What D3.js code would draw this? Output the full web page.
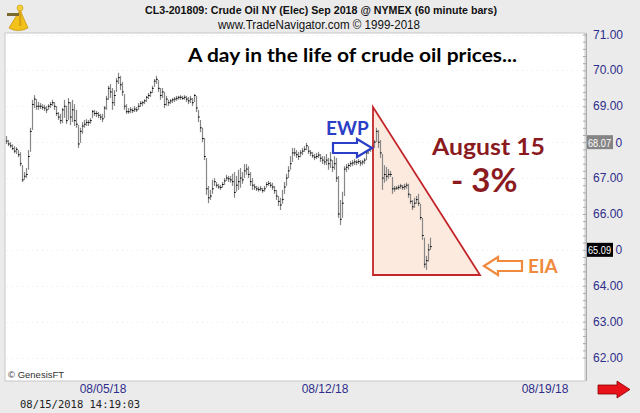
<!DOCTYPE html>
<html><head><meta charset="utf-8">
<script src="https://cdn.jsdelivr.net/npm/d3@7"></script>
<style>body{margin:0;background:#ebebeb;}svg{display:block;}</style>
</head><body>
<svg id="c" width="640" height="413"></svg>
<script>
// ---- data (60 minute bars, CL Sep 2018) ----
const hi = [68.17,68.06,68.0,67.94,67.89,67.86,67.78,67.72,67.36,67.17,67.28,67.78,68.4,69.18,69.31,69.2,69.12,69.09,69.06,69.04,69.01,69.06,69.12,69.18,69.12,69.01,68.84,68.79,68.95,69.18,69.01,69.23,69.12,69.18,69.06,68.9,68.48,68.4,68.56,68.62,68.64,68.62,68.67,68.9,68.9,68.87,68.84,68.79,68.79,69.01,69.29,69.57,69.62,69.51,69.45,69.79,69.93,69.85,69.68,69.34,69.06,68.95,68.98,68.95,69.01,68.98,69.09,69.15,69.15,69.2,69.29,69.37,69.43,69.57,69.76,69.85,69.73,69.51,69.51,69.4,69.29,69.18,69.2,69.23,69.26,69.29,69.29,69.31,69.29,69.31,69.29,69.26,69.29,69.23,69.34,69.29,68.9,68.62,68.4,68.12,67.56,66.78,66.67,66.95,67.0,66.89,66.84,66.81,66.89,67.0,67.09,67.06,67.06,67.12,67.17,67.06,67.23,67.28,67.17,67.39,67.39,67.33,67.17,67.0,66.84,66.78,66.76,66.78,66.73,66.78,66.89,66.92,66.89,66.87,66.78,66.67,66.5,66.45,66.67,66.89,67.12,67.33,67.61,67.84,67.84,67.78,67.73,67.78,67.84,67.89,67.98,67.89,67.78,67.73,67.67,67.7,67.73,67.67,67.61,67.61,67.67,67.56,67.73,67.5,67.61,67.56,67.06,66.39,66.62,67.33,67.39,67.42,67.47,67.5,67.53,67.5,67.53,67.5,67.5,67.56,67.78,67.84,67.89,67.94,68.06,68.4,68.34,68.06,67.67,67.36,67.31,67.25,67.2,67.03,66.78,66.78,66.81,66.84,66.81,66.84,66.87,66.84,66.56,66.39,66.45,66.5,66.56,66.28,65.89,65.34,64.83,65.17,65.34];
const lo = [67.95,67.89,67.84,67.78,67.69,67.67,67.58,67.33,66.89,66.95,67.0,67.23,67.73,68.34,68.95,68.9,68.9,68.92,68.9,68.87,68.81,68.9,68.95,69.01,68.9,68.73,68.62,68.51,68.53,68.68,68.51,68.62,68.48,68.56,68.45,68.4,67.84,67.98,68.23,68.4,68.45,68.45,68.51,68.67,68.73,68.7,68.67,68.62,68.56,68.67,68.9,69.18,69.23,68.9,69.01,69.4,69.62,69.45,69.29,68.9,68.79,68.79,68.81,68.81,68.84,68.84,68.9,68.98,69.01,69.06,69.12,69.2,69.26,69.37,69.54,69.62,69.4,69.18,69.23,68.95,69.01,69.01,69.06,69.09,69.12,69.15,69.18,69.18,69.18,69.18,69.12,69.06,69.09,69.01,69.12,68.84,68.56,68.28,68.0,67.5,66.53,66.3,66.39,66.56,66.78,66.73,66.7,66.67,66.73,66.81,66.92,66.89,66.87,66.78,66.45,66.62,66.67,66.73,66.84,67.0,67.09,67.0,66.78,66.67,66.67,66.64,66.62,66.64,66.59,66.62,66.73,66.78,66.73,66.67,66.56,66.39,66.22,66.11,66.28,66.56,66.78,67.0,67.23,67.45,67.61,67.56,67.5,67.58,67.64,67.73,67.78,67.67,67.61,67.56,67.5,67.53,67.56,67.45,67.39,67.36,67.36,67.23,67.28,67.17,67.23,66.89,65.89,65.69,65.89,66.5,67.17,67.23,67.31,67.33,67.36,67.36,67.39,67.33,67.36,67.39,67.5,67.67,67.73,67.73,67.84,68.0,67.84,67.56,66.67,66.87,66.92,66.98,67.03,66.56,66.62,66.67,66.67,66.7,66.67,66.67,66.7,66.45,66.28,66.11,66.17,66.28,66.22,65.83,65.28,64.5,64.44,64.67,65.0];
const cl = [68.03,67.95,67.9,67.82,67.75,67.8,67.65,67.4,66.95,67.05,67.1,67.6,68.3,69.05,69.2,69.0,69.0,69.0,68.97,68.95,68.9,69.0,69.05,69.1,69.0,68.8,68.7,68.6,68.9,69.0,68.6,69.1,68.7,68.9,68.6,68.5,67.95,68.3,68.45,68.5,68.55,68.55,68.6,68.85,68.8,68.8,68.75,68.7,68.65,68.95,69.2,69.5,69.4,69.1,69.3,69.7,69.8,69.6,69.4,69.0,68.85,68.85,68.9,68.88,68.92,68.9,69.0,69.08,69.1,69.15,69.25,69.3,69.38,69.5,69.7,69.75,69.5,69.3,69.4,69.05,69.2,69.1,69.15,69.18,69.2,69.22,69.25,69.25,69.22,69.25,69.2,69.15,69.2,69.1,69.3,68.95,68.7,68.4,68.1,67.6,66.7,66.45,66.5,66.7,66.9,66.8,66.75,66.74,66.82,66.92,67.0,66.98,66.95,66.9,66.6,66.8,66.9,67.0,66.95,67.2,67.25,67.1,66.9,66.8,66.75,66.7,66.68,66.7,66.65,66.7,66.82,66.85,66.8,66.75,66.65,66.5,66.35,66.25,66.4,66.75,67.0,67.2,67.4,67.7,67.7,67.65,67.6,67.7,67.75,67.8,67.9,67.75,67.7,67.62,67.58,67.6,67.64,67.55,67.5,67.45,67.5,67.4,67.5,67.3,67.4,67.0,66.0,65.85,66.3,67.25,67.3,67.35,67.4,67.42,67.45,67.44,67.46,67.42,67.45,67.5,67.7,67.78,67.82,67.85,68.0,68.3,68.0,67.7,67.0,67.1,67.05,67.1,67.1,66.7,66.7,66.72,66.74,66.78,66.74,66.76,66.8,66.55,66.35,66.2,66.3,66.4,66.3,65.9,65.4,64.6,64.7,65.0,65.09];
const yTicks = [62,63,64,65,66,67,68,69,70,71];
const dateLabels = ["08/05/18","08/12/18","08/19/18"];
const dateIdx = [48.5,159.5,269.5];
const lastPrice = 65.09, refPrice = 68.07;

const svg = d3.select("#c");
const L=5, R=585, T=33, B=381;
const x = d3.scaleLinear().domain([0,289.5]).range([6,585]);
const y = d3.scaleLinear().domain([62,71]).range([357.5,34.5]);
const AR = "'Liberation Sans', Arial, sans-serif";
const CAL = "Lato, 'Open Sans', sans-serif";

svg.append("rect").attr("width",640).attr("height",413).attr("fill","#ebebeb");
svg.append("rect").attr("x",L).attr("y",T).attr("width",R-L).attr("height",B-T).attr("fill","#fff").attr("stroke","#c8c8c8");

// faint dotted grid
svg.append("g").selectAll("line").data(yTicks).join("line")
  .attr("x1",L+2).attr("x2",R-2).attr("y1",d=>Math.round(y(d))+0.5).attr("y2",d=>Math.round(y(d))+0.5)
  .attr("stroke","#ebebeb").attr("stroke-dasharray","1,4");

// right axis
const ax = d3.axisLeft(y).tickValues(d3.range(62,71.01,0.2)).tickSize(3).tickFormat("");
const gA = svg.append("g").attr("transform",`translate(${R+1},0)`).call(ax);
gA.select(".domain").remove();
gA.selectAll(".tick line").attr("stroke","#aaa");
svg.append("line").attr("x1",R+1.5).attr("x2",R+1.5).attr("y1",T).attr("y2",B).attr("stroke","#aaa");
svg.append("g").selectAll("text").data(yTicks.filter(d=>d!==68&&d!==65)).join("text")
  .attr("x",593).attr("y",d=>y(d)+4).text(d=>d.toFixed(2))
  .attr("font-family",AR).attr("font-size",12).attr("fill","#2e2e8c");

// triangle
const tri = [[373,107],[373,275],[480,275]];
svg.append("path").attr("d","M"+tri.map(p=>p.join(",")).join("L")+"Z")
  .attr("fill","#fdeadf");

// bars
const gb = svg.append("g");
gb.selectAll("line.b").data(cl).join("line").attr("class","b")
  .attr("x1",(d,i)=>x(i)+0.5).attr("x2",(d,i)=>x(i)+0.5)
  .attr("y1",(d,i)=>y(hi[i])).attr("y2",(d,i)=>y(lo[i]))
  .attr("stroke","#888").attr("stroke-width",1.2);
gb.selectAll("line.c").data(cl).join("line").attr("class","c")
  .attr("x1",(d,i)=>x(i)).attr("x2",(d,i)=>x(i)+1.8)
  .attr("y1",d=>y(d)).attr("y2",d=>y(d))
  .attr("stroke","#111").attr("stroke-width",1);

svg.append("path").attr("d","M"+tri.map(p=>p.join(",")).join("L")+"Z")
  .attr("fill","none").attr("stroke","#c3252b").attr("stroke-width",1.8);

// price boxes (with the tail "0" of the covered axis label)
function priceBox(level, val, bg){
  svg.append("rect").attr("x",587).attr("y",y(level)-7).attr("width",26).attr("height",14).attr("fill",bg);
  svg.append("text").attr("x",588).attr("y",y(level)+4.5).text(val.toFixed(2))
    .attr("font-family",AR).attr("font-size",11.5).attr("fill","#fff")
    .attr("textLength",23).attr("lengthAdjust","spacingAndGlyphs");
  svg.append("text").attr("x",615.5).attr("y",y(level)+4.5).text("0")
    .attr("font-family",AR).attr("font-size",12).attr("fill","#2e2e8c");
}
priceBox(68, refPrice, "#858585");
priceBox(65, lastPrice, "#000");

// date labels
svg.append("g").selectAll("text").data(dateLabels).join("text")
  .attr("x",(d,i)=>x(dateIdx[i])).attr("y",393).attr("text-anchor","middle").text(d=>d)
  .attr("font-family",AR).attr("font-size",12).attr("fill","#2e2e8c");
svg.append("text").attr("x",20).attr("y",408).text("08/15/2018 14:19:03")
  .attr("font-family","'DejaVu Sans Mono', monospace").attr("font-size",10.5).attr("fill","#222");
svg.append("text").attr("x",8).attr("y",378).text("© GenesisFT")
  .attr("font-family",AR).attr("font-size",9.5).attr("fill","#333");

// red arrow
svg.append("path").attr("d","M598,385 L617,385 L617,381 L630,389.5 L617,398 L617,394 L598,394 Z")
  .attr("fill","#e8121a").attr("stroke","#8a0000").attr("stroke-width",0.8);

// header
svg.append("text").attr("x",321).attr("y",14).attr("text-anchor","middle")
  .text("CL3-201809:  Crude Oil NY (Elec) Sep 2018 @ NYMEX  (60 minute bars)")
  .attr("font-family",AR).attr("font-size",11).attr("font-weight","bold").attr("fill","#111")
  .attr("textLength",352).attr("lengthAdjust","spacingAndGlyphs");
svg.append("text").attr("x",319).attr("y",29).attr("text-anchor","middle")
  .text("www.TradeNavigator.com © 1999-2018")
  .attr("font-family",AR).attr("font-size",12.5).attr("fill","#111")
  .attr("textLength",202).attr("lengthAdjust","spacingAndGlyphs");

// logo (sextant)
const lg = svg.append("g").attr("transform","translate(4,2)");
lg.append("path").attr("d","M5,26 Q14,31 24,26 L16,8 Z").attr("fill","#f2c21b").attr("stroke","#c8960a").attr("stroke-width",0.8);
lg.append("rect").attr("x",3).attr("y",11).attr("width",12).attr("height",3).attr("fill","#7a6a30");
lg.append("circle").attr("cx",16).attr("cy",6).attr("r",3).attr("fill","#f4cf3a").attr("stroke","#c8960a").attr("stroke-width",0.6);
lg.append("rect").attr("x",15).attr("y",9).attr("width",2.5).attr("height",15).attr("fill","#d9a514");

// annotations
svg.append("text").attr("x",188).attr("y",62).text("A day in the life of crude oil prices...")
  .attr("font-family",CAL).attr("font-size",18).attr("font-weight","bold").attr("fill","#000")
  .attr("textLength",329).attr("lengthAdjust","spacingAndGlyphs");
svg.append("text").attr("x",326).attr("y",135).text("EWP")
  .attr("font-family",CAL).attr("font-size",19).attr("font-weight","bold").attr("fill","#2a3ec8");
svg.append("path").attr("d","M333,143 L357,143 L357,139 L372,148 L357,157 L357,153 L333,153 Z")
  .attr("fill","#fff").attr("stroke","#2a3ec8").attr("stroke-width",2.2);
svg.append("text").attr("x",432).attr("y",155).text("August 15")
  .attr("font-family",CAL).attr("font-size",23).attr("font-weight","bold").attr("fill","#8b1a1f")
  .attr("textLength",113).attr("lengthAdjust","spacingAndGlyphs");
svg.append("text").attr("x",451).attr("y",192).text("- 3%")
  .attr("font-family",CAL).attr("font-size",33).attr("font-weight","bold").attr("fill","#8b1a1f");
svg.append("text").attr("x",528).attr("y",273).text("EIA")
  .attr("font-family",CAL).attr("font-size",19).attr("font-weight","bold").attr("fill","#f08a3c");
svg.append("path").attr("d","M484,266 L498,257 L498,261 L522,261 L522,271 L498,271 L498,275 Z")
  .attr("fill","#fff").attr("stroke","#f08a3c").attr("stroke-width",2.2);
</script>
</body></html>
